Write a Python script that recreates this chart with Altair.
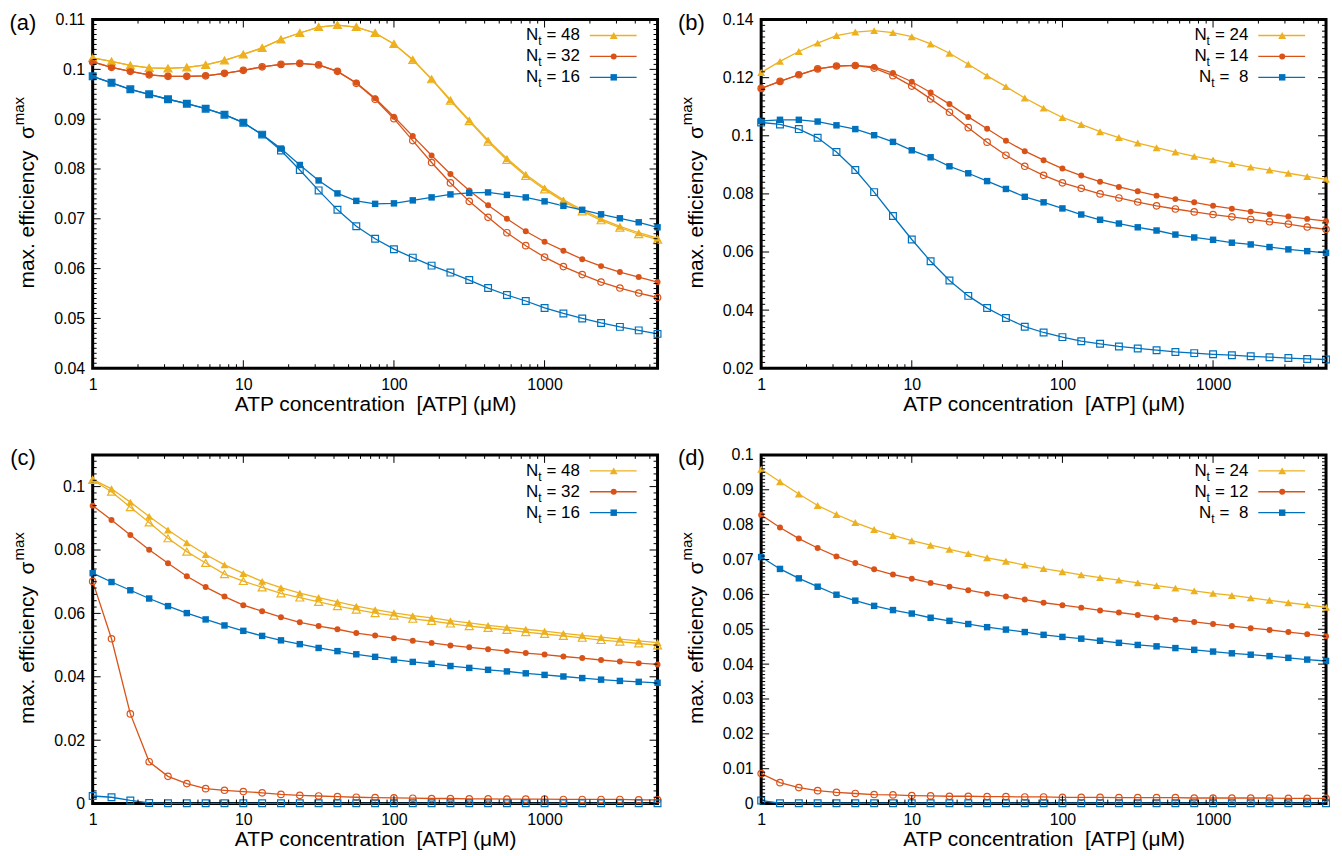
import altair as alt
import pandas as pd

# ---------------- data ----------------
X = [1, 1.3335, 1.7783, 2.3714, 3.1623, 4.2170, 5.6234, 7.4989,
     10, 13.335, 17.783, 23.714, 31.623, 42.170, 56.234, 74.989,
     100, 133.35, 177.83, 237.14, 316.23, 421.70, 562.34, 749.89,
     1000, 1333.5, 1778.3, 2371.4, 3162.3, 4217.0, 5623.4]

# panel (a)
A_Y48 = [0.1023, 0.1016, 0.1008, 0.1003, 0.1002, 0.1004, 0.1009, 0.1018, 0.1030, 0.1043,
         0.1060, 0.1073, 0.1085, 0.1089, 0.1085, 0.1073, 0.1051, 0.1020, 0.0981, 0.0939,
         0.0898, 0.0858, 0.0821, 0.0789, 0.0762, 0.0738, 0.0718, 0.0700, 0.0685, 0.0672, 0.0661]
A_Y48o = [0.1023, 0.1016, 0.1008, 0.1003, 0.1002, 0.1004, 0.1009, 0.1018, 0.1030, 0.1043,
          0.1060, 0.1073, 0.1085, 0.1089, 0.1085, 0.1073, 0.1051, 0.1019, 0.0980, 0.0937,
          0.0896, 0.0855, 0.0818, 0.0786, 0.0759, 0.0735, 0.0715, 0.0697, 0.0682, 0.0669, 0.0658]
A_R32 = [0.1015, 0.1004, 0.0996, 0.0989, 0.0986, 0.0986, 0.0987, 0.0992, 0.0998, 0.1005,
         0.1010, 0.1012, 0.1009, 0.0996, 0.0973, 0.0942, 0.0905, 0.0866, 0.0827, 0.0790,
         0.0757, 0.0727, 0.0700, 0.0675, 0.0654, 0.0636, 0.0619, 0.0605, 0.0593, 0.0583, 0.0573]
A_R32o = [0.1015, 0.1004, 0.0996, 0.0989, 0.0986, 0.0986, 0.0987, 0.0992, 0.0998, 0.1005,
          0.1010, 0.1012, 0.1009, 0.0996, 0.0972, 0.0940, 0.0901, 0.0857, 0.0813, 0.0772,
          0.0735, 0.0703, 0.0672, 0.0646, 0.0623, 0.0604, 0.0588, 0.0573, 0.0561, 0.0551, 0.0542]
A_B16 = [0.0986, 0.0973, 0.0960, 0.0950, 0.0940, 0.0931, 0.0921, 0.0909, 0.0893, 0.0869,
         0.0841, 0.0808, 0.0777, 0.0751, 0.0736, 0.0730, 0.0731, 0.0737, 0.0743, 0.0749,
         0.0752, 0.0753, 0.0748, 0.0743, 0.0735, 0.0726, 0.0718, 0.0709, 0.0701, 0.0693, 0.0683]
A_B16o = [0.0986, 0.0973, 0.0960, 0.0950, 0.0940, 0.0931, 0.0921, 0.0909, 0.0893, 0.0869,
          0.0837, 0.0798, 0.0757, 0.0718, 0.0685, 0.0660, 0.0639, 0.0622, 0.0606, 0.0592,
          0.0577, 0.0561, 0.0547, 0.0535, 0.0521, 0.0510, 0.0500, 0.0491, 0.0483, 0.0476, 0.0469]

# panel (b)
B_Y24 = [0.1218, 0.1256, 0.1290, 0.1319, 0.1345, 0.1357, 0.1362, 0.1355, 0.1341, 0.1316,
         0.1284, 0.1246, 0.1206, 0.1169, 0.1130, 0.1095, 0.1063, 0.1039, 0.1014, 0.0994,
         0.0975, 0.0959, 0.0944, 0.0929, 0.0917, 0.0904, 0.0892, 0.0882, 0.0871, 0.0860, 0.0850]
B_R14 = [0.1163, 0.1187, 0.1210, 0.1230, 0.1240, 0.1242, 0.1237, 0.1216, 0.1186, 0.1149,
         0.1109, 0.1065, 0.1024, 0.0983, 0.0947, 0.0916, 0.0887, 0.0863, 0.0842, 0.0824,
         0.0809, 0.0794, 0.0782, 0.0771, 0.0759, 0.0749, 0.0739, 0.0730, 0.0722, 0.0714, 0.0706]
B_R14o = [0.1163, 0.1187, 0.1210, 0.1230, 0.1240, 0.1242, 0.1233, 0.1207, 0.1171, 0.1127,
          0.1081, 0.1028, 0.0978, 0.0933, 0.0895, 0.0864, 0.0838, 0.0819, 0.0800, 0.0786,
          0.0772, 0.0759, 0.0748, 0.0738, 0.0729, 0.0721, 0.0712, 0.0704, 0.0696, 0.0686, 0.0678]
B_B8 = [0.1051, 0.1055, 0.1055, 0.1049, 0.1036, 0.1023, 0.1002, 0.0979, 0.0950, 0.0926,
        0.0895, 0.0871, 0.0844, 0.0817, 0.0790, 0.0771, 0.0750, 0.0729, 0.0711, 0.0698,
        0.0685, 0.0674, 0.0660, 0.0650, 0.0642, 0.0632, 0.0626, 0.0617, 0.0609, 0.0603, 0.0597]
B_B8o = [0.1046, 0.1039, 0.1023, 0.0993, 0.0944, 0.0882, 0.0806, 0.0724, 0.0643, 0.0568,
         0.0502, 0.0449, 0.0407, 0.0373, 0.0343, 0.0323, 0.0307, 0.0293, 0.0284, 0.0275,
         0.0268, 0.0262, 0.0256, 0.0252, 0.0248, 0.0245, 0.0241, 0.0238, 0.0235, 0.0232, 0.0230]

# panel (c)
C_Y48 = [0.1023, 0.0993, 0.0951, 0.0906, 0.0863, 0.0823, 0.0786, 0.0753, 0.0726, 0.0701,
         0.0681, 0.0664, 0.0650, 0.0636, 0.0623, 0.0612, 0.0602, 0.0593, 0.0586, 0.0577,
         0.0570, 0.0562, 0.0556, 0.0550, 0.0544, 0.0537, 0.0531, 0.0525, 0.0519, 0.0513, 0.0508]
C_Y48o = [0.1021, 0.0984, 0.0935, 0.0887, 0.0837, 0.0795, 0.0759, 0.0724, 0.0702, 0.0682,
          0.0663, 0.0650, 0.0636, 0.0623, 0.0612, 0.0601, 0.0593, 0.0583, 0.0576, 0.0568,
          0.0560, 0.0554, 0.0548, 0.0541, 0.0535, 0.0529, 0.0523, 0.0516, 0.0511, 0.0505, 0.0499]
C_R32 = [0.0940, 0.0895, 0.0847, 0.0801, 0.0758, 0.0717, 0.0683, 0.0653, 0.0626, 0.0607,
         0.0588, 0.0572, 0.0560, 0.0550, 0.0538, 0.0530, 0.0522, 0.0514, 0.0507, 0.0499,
         0.0493, 0.0487, 0.0481, 0.0475, 0.0470, 0.0464, 0.0459, 0.0453, 0.0448, 0.0443, 0.0439]
C_R32o = [0.0701, 0.0520, 0.0283, 0.0132, 0.0086, 0.0063, 0.0047, 0.0042, 0.0038, 0.0034,
          0.0029, 0.0026, 0.0024, 0.0022, 0.0020, 0.0019, 0.0018, 0.0017, 0.0016, 0.0016,
          0.0015, 0.0015, 0.0014, 0.0014, 0.0014, 0.0013, 0.0013, 0.0013, 0.0013, 0.0012, 0.0012]
C_B16 = [0.0727, 0.0699, 0.0673, 0.0647, 0.0623, 0.0601, 0.0581, 0.0562, 0.0545, 0.0529,
         0.0515, 0.0503, 0.0491, 0.0481, 0.0471, 0.0463, 0.0454, 0.0447, 0.0441, 0.0434,
         0.0428, 0.0422, 0.0417, 0.0411, 0.0406, 0.0401, 0.0396, 0.0391, 0.0387, 0.0384, 0.0381]
C_B16o = [0.0024, 0.0020, 0.0010, 0.0002, 0.0001, 0.0001, 0.0001, 0.0001, 0.0001, 0.0001,
          0.0001, 0.0001, 0.0001, 0.0001, 0.0001, 0.0001, 0.0001, 0.0001, 0.0001, 0.0001,
          0.0001, 0.0001, 0.0001, 0.0001, 0.0001, 0.0001, 0.0001, 0.0001, 0.0001, 0.0001, 0.0001]

# panel (d)
D_Y24 = [0.0959, 0.0923, 0.0888, 0.0855, 0.0829, 0.0806, 0.0786, 0.0769, 0.0754, 0.0741,
         0.0729, 0.0717, 0.0705, 0.0695, 0.0684, 0.0674, 0.0665, 0.0656, 0.0648, 0.0641,
         0.0633, 0.0625, 0.0618, 0.0610, 0.0603, 0.0597, 0.0590, 0.0583, 0.0576, 0.0570, 0.0563]
D_R12 = [0.0828, 0.0792, 0.0760, 0.0733, 0.0709, 0.0690, 0.0672, 0.0657, 0.0645, 0.0633,
         0.0622, 0.0612, 0.0602, 0.0594, 0.0585, 0.0576, 0.0569, 0.0562, 0.0554, 0.0548,
         0.0541, 0.0534, 0.0527, 0.0521, 0.0515, 0.0509, 0.0503, 0.0498, 0.0492, 0.0486, 0.0480]
D_R12o = [0.0086, 0.0060, 0.0046, 0.0037, 0.0032, 0.0029, 0.0026, 0.0025, 0.0023, 0.0022,
          0.0021, 0.0021, 0.0020, 0.0020, 0.0019, 0.0019, 0.0018, 0.0018, 0.0018, 0.0017,
          0.0017, 0.0017, 0.0017, 0.0016, 0.0016, 0.0016, 0.0016, 0.0016, 0.0015, 0.0015, 0.0015]
D_B8 = [0.0707, 0.0673, 0.0646, 0.0622, 0.0599, 0.0582, 0.0567, 0.0555, 0.0545, 0.0533,
        0.0524, 0.0515, 0.0506, 0.0499, 0.0492, 0.0484, 0.0478, 0.0473, 0.0467, 0.0461,
        0.0455, 0.0451, 0.0446, 0.0441, 0.0436, 0.0431, 0.0427, 0.0423, 0.0418, 0.0413, 0.0409]
D_B8o = [0.0009, 0.0001, 0.0001, 0.0001, 0.0001, 0.0001, 0.0001, 0.0001, 0.0001, 0.0001,
         0.0001, 0.0001, 0.0001, 0.0001, 0.0001, 0.0001, 0.0001, 0.0001, 0.0001, 0.0001,
         0.0001, 0.0001, 0.0001, 0.0001, 0.0001, 0.0001, 0.0001, 0.0001, 0.0001, 0.0001, 0.0001]

X_MAJOR = [1, 10, 100, 1000]
A_YTICKS = [0.04, 0.05, 0.06, 0.07, 0.08, 0.09, 0.1, 0.11]
B_YTICKS = [0.02, 0.04, 0.06, 0.08, 0.1, 0.12, 0.14]
C_YTICKS = [0, 0.02, 0.04, 0.06, 0.08, 0.1]
D_YTICKS = [0, 0.01, 0.02, 0.03, 0.04, 0.05, 0.06, 0.07, 0.08, 0.09, 0.1]

# ---------------- style ----------------
YEL, RED, BLU = "#EDB120", "#D95319", "#0072BD"
FONT = "Liberation Sans"
W, H = 567, 350
SHAPE = {YEL: "triangle-up", RED: "circle", BLU: "square"}
SIZE_F = {YEL: 64, RED: 36, BLU: 42}
SIZE_O = {YEL: 64, RED: 42, BLU: 46}
CW = {" ": 0.278, "\u00a0": 0.278, "=": 0.584}

X_MINOR = [m * 10 ** d for d in range(4) for m in range(2, 10) if m * 10 ** d <= X[-1]]


def tw(s, fs):
    return sum(CW.get(ch, 0.556) for ch in s) * fs


def one():
    return alt.Chart(pd.DataFrame({"d": [0]}))


def panel(tag, series, ydom, ymaj, yminor_step, legend):
    xs = alt.Scale(type="log", domain=[1, X[-1]])
    ys = alt.Scale(domain=ydom, nice=False, zero=False)
    xax = alt.Axis(values=X_MAJOR, format="~g", ticks=False, domain=False, grid=False,
                   labelFont=FONT, labelFontSize=16, labelColor="black", labelPadding=8,
                   labelFlush=False,
                   title="ATP concentration\u00a0 [ATP] (\u03bcM)", titleFont=FONT,
                   titleFontSize=21, titleFontWeight="normal", titleColor="black",
                   titlePadding=1)
    yax = alt.Axis(values=ymaj, format="~g", ticks=False, domain=False, grid=False,
                   labelFont=FONT, labelFontSize=16, labelColor="black", labelPadding=8,
                   labelFlush=False, title=None)

    def XE():
        return alt.X("x:Q", scale=xs, axis=xax)

    def YE():
        return alt.Y("y:Q", scale=ys, axis=yax)

    layers = []
    # lines
    for vals, col, filled in series:
        d = pd.DataFrame({"x": X, "y": vals})
        layers.append(alt.Chart(d).mark_line(color=col, strokeWidth=1.3).encode(x=XE(), y=YE()))
    # open markers first, filled on top
    for vals, col, filled in series:
        if filled:
            continue
        d = pd.DataFrame({"x": X, "y": vals})
        layers.append(alt.Chart(d).mark_point(shape=SHAPE[col], filled=False, color=col,
                                              size=SIZE_O[col], strokeWidth=1.2, opacity=1)
                      .encode(x=XE(), y=YE()))
    for vals, col, filled in series:
        if not filled:
            continue
        d = pd.DataFrame({"x": X, "y": vals})
        layers.append(alt.Chart(d).mark_point(shape=SHAPE[col], filled=True, color=col,
                                              size=SIZE_F[col], opacity=1)
                      .encode(x=XE(), y=YE()))

    # inward ticks (gnuplot style)
    n = int(round((ydom[1] - ydom[0]) / yminor_step))
    ymin = [round(ydom[0] + i * yminor_step, 6) for i in range(1, n)]
    ymin = [v for v in ymin if all(abs(v - m) > 1e-9 for m in ymaj)]
    dxM = pd.DataFrame({"x": X_MAJOR})
    dxm = pd.DataFrame({"x": X_MINOR})
    dyM = pd.DataFrame({"y": ymaj})
    dym = pd.DataFrame({"y": ymin})
    for dfr, ln in ((dxM, 8), (dxm, 4)):
        layers.append(alt.Chart(dfr).mark_rule(color="black", strokeWidth=1)
                      .encode(x=XE(), y=alt.value(H - ln), y2=alt.value(H)))
        layers.append(alt.Chart(dfr).mark_rule(color="black", strokeWidth=1)
                      .encode(x=XE(), y=alt.value(0), y2=alt.value(ln)))
    for dfr, ln in ((dyM, 8), (dym, 4)):
        layers.append(alt.Chart(dfr).mark_rule(color="black", strokeWidth=1)
                      .encode(y=YE(), x=alt.value(0), x2=alt.value(ln)))
        layers.append(alt.Chart(dfr).mark_rule(color="black", strokeWidth=1)
                      .encode(y=YE(), x=alt.value(W - ln), x2=alt.value(W)))

    # y-axis title with superscript
    layers.append(one().mark_text(text="max. efficiency\u00a0 \u03c3", font=FONT, fontSize=21,
                                  angle=270, align="left", baseline="middle", color="black")
                  .encode(x=alt.value(-64.5), y=alt.value(270)))
    layers.append(one().mark_text(text="max", font=FONT, fontSize=15,
                                  angle=270, align="left", baseline="middle", color="black")
                  .encode(x=alt.value(-74), y=alt.value(106)))
    # panel tag
    layers.append(one().mark_text(text=tag, font=FONT, fontSize=22, align="center",
                                  baseline="middle", color="black")
                  .encode(x=alt.value(-70), y=alt.value(3)))

    # legend
    XR = 489
    for i, (num, col) in enumerate(legend):
        yy = 16 + 21 * i
        right = "=\u00a0" + num
        wr = tw(right, 17)
        xt = XR - wr - 4.7 - 3.6
        layers.append(one().mark_text(text=right, font=FONT, fontSize=17, align="right",
                                      baseline="middle", color="black")
                      .encode(x=alt.value(XR), y=alt.value(yy)))
        layers.append(one().mark_text(text="t", font=FONT, fontSize=12, align="left",
                                      baseline="middle", color="black")
                      .encode(x=alt.value(xt), y=alt.value(yy + 6)))
        layers.append(one().mark_text(text="N", font=FONT, fontSize=17, align="right",
                                      baseline="middle", color="black")
                      .encode(x=alt.value(xt), y=alt.value(yy)))
        layers.append(one().mark_rule(color=col, strokeWidth=1.3)
                      .encode(x=alt.value(499), x2=alt.value(546), y=alt.value(yy)))
        layers.append(one().mark_point(shape=SHAPE[col], filled=True, color=col,
                                       size=SIZE_F[col], opacity=1)
                      .encode(x=alt.value(523), y=alt.value(yy)))

    return alt.layer(*layers).properties(width=W, height=H)


pa = panel("(a)",
           [(A_Y48o, YEL, False), (A_Y48, YEL, True),
            (A_R32o, RED, False), (A_R32, RED, True),
            (A_B16o, BLU, False), (A_B16, BLU, True)],
           [0.04, 0.11], A_YTICKS, 0.001,
           [("48", YEL), ("32", RED), ("16", BLU)])
pb = panel("(b)",
           [(B_Y24, YEL, True),
            (B_R14o, RED, False), (B_R14, RED, True),
            (B_B8o, BLU, False), (B_B8, BLU, True)],
           [0.02, 0.14], B_YTICKS, 0.002,
           [("24", YEL), ("14", RED), ("\u00a08", BLU)])
pc = panel("(c)",
           [(C_Y48o, YEL, False), (C_Y48, YEL, True),
            (C_R32o, RED, False), (C_R32, RED, True),
            (C_B16o, BLU, False), (C_B16, BLU, True)],
           [0.0, 0.11], C_YTICKS, 0.002,
           [("48", YEL), ("32", RED), ("16", BLU)])
pd_ = panel("(d)",
            [(D_Y24, YEL, True),
             (D_R12o, RED, False), (D_R12, RED, True),
             (D_B8o, BLU, False), (D_B8, BLU, True)],
            [0.0, 0.1], D_YTICKS, 0.001,
            [("24", YEL), ("12", RED), ("\u00a08", BLU)])

chart = (alt.concat(pa, pb, pc, pd_, columns=2,
                    spacing={"row": 87, "column": 104}, bounds="flush")
         .properties(padding=0, background="white")
         .configure_view(stroke="black", strokeWidth=3))

chart.save("out.html", embed_options={"renderer": "svg", "actions": False})
